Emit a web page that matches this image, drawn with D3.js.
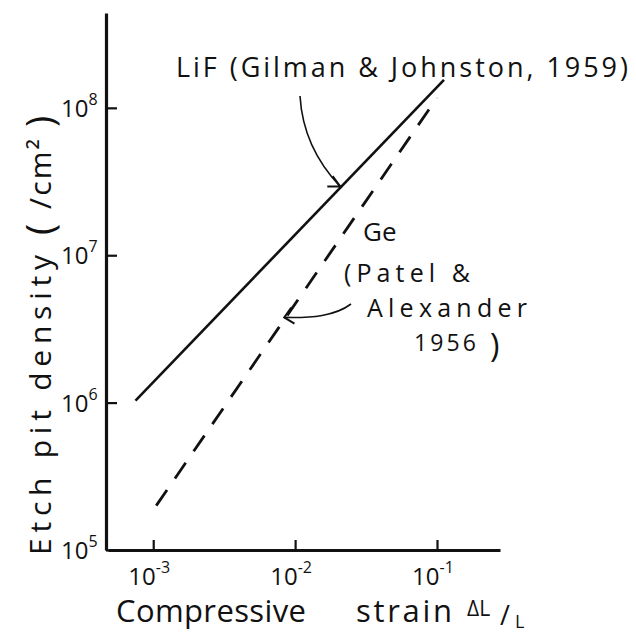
<!DOCTYPE html>
<html>
<head>
<meta charset="utf-8">
<script src="https://cdn.jsdelivr.net/npm/d3@7"></script>
<style>
  html, body { margin: 0; padding: 0; background: #fff; }
  svg { display: block; }
  text { font-family: "Open Sans", "DejaVu Sans", sans-serif; fill: #111; }
</style>
</head>
<body>
<svg id="chart" width="636" height="635"></svg>
<script>
// Etch pit density against compressive strain (log–log)
const xTicks = [1e-3, 1e-2, 1e-1];
const xTickExp = ["-3", "-2", "-1"];
const yTicks = [1e5, 1e6, 1e7, 1e8];
const yTickExp = ["5", "6", "7", "8"];

// LiF (Gilman & Johnston, 1959): solid line
const lifStrain = [7.5e-4, 0.112];
const lifDensity = [1.03e6, 1.55e8];
// Ge (Patel & Alexander, 1956): dashed line
const geStrain = [1.05e-3, 0.10];
const geDensity = [2.0e5, 1.17e8];

const svg = d3.select("#chart");
const ink = "#111";

const x = d3.scaleLog().domain([4.8e-4, 0.278]).range([108, 500]);
const y = d3.scaleLog().domain([1e5, 4.4e8]).range([550, 13]);

// axes, ticks pointing inward
const xAxis = d3.axisBottom(x).tickValues(xTicks).tickSize(-10).tickSizeOuter(0).tickFormat("");
const yAxis = d3.axisLeft(y).tickValues(yTicks).tickSize(-11).tickSizeOuter(0).tickFormat("");

const gx = svg.append("g").attr("transform", "translate(0,550)").call(xAxis);
const gy = svg.append("g").attr("transform", "translate(106,0)").call(yAxis);
[gx, gy].forEach(g => {
  g.select(".domain").attr("stroke", ink).attr("stroke-width", 3.2);
  g.selectAll(".tick line").attr("stroke", ink).attr("stroke-width", 2.2);
});

// tick labels as powers of ten
xTicks.forEach((v, i) => {
  const t = svg.append("text").attr("x", x(v) - 4).attr("y", 585)
    .attr("text-anchor", "middle").style("font-size", "24px");
  t.append("tspan").text("10");
  t.append("tspan").attr("dy", -12).style("font-size", "16px").text(xTickExp[i]);
});
yTicks.forEach((v, i) => {
  const t = svg.append("text").attr("x", 61).attr("y", y(v) + 9)
    .style("font-size", "24px");
  t.append("tspan").text("10");
  t.append("tspan").attr("dy", -12).style("font-size", "16px").text(yTickExp[i]);
});

// data lines
const line = d3.line().x(d => x(d[0])).y(d => y(d[1]));
svg.append("path")
  .datum(d3.zip(lifStrain, lifDensity))
  .attr("d", line).attr("fill", "none")
  .attr("stroke", ink).attr("stroke-width", 2.6);
svg.append("path")
  .datum(d3.zip(geStrain, geDensity))
  .attr("d", line).attr("fill", "none")
  .attr("stroke", ink).attr("stroke-width", 2.8)
  .attr("stroke-dasharray", "19,14");

// value on a log-log straight line at a given strain
function onLine(xs, ys, s) {
  const t = (Math.log(s) - Math.log(xs[0])) / (Math.log(xs[1]) - Math.log(xs[0]));
  return Math.exp(Math.log(ys[0]) + t * (Math.log(ys[1]) - Math.log(ys[0])));
}

// annotation arrows
function arrowHead(tx, ty, a1, a2, len) {
  return `M${tx + len * Math.cos(a1)},${ty + len * Math.sin(a1)}L${tx},${ty}L${tx + len * Math.cos(a2)},${ty + len * Math.sin(a2)}`;
}
const lifTipS = 0.0215;
const lifTip = [x(lifTipS) - 2, y(onLine(lifStrain, lifDensity, lifTipS)) + 1];
svg.append("path")
  .attr("d", `M300,96 C302,130 315,160 ${lifTip[0]},${lifTip[1]}`)
  .attr("fill", "none").attr("stroke", ink).attr("stroke-width", 1.6);
svg.append("path")
  .attr("d", arrowHead(lifTip[0], lifTip[1], Math.PI, -2.2, 13))
  .attr("fill", "none").attr("stroke", ink).attr("stroke-width", 2);

const geTipS = 0.0088;
const geTip = [x(geTipS) - 3, y(onLine(geStrain, geDensity, geTipS)) + 2];
svg.append("path")
  .attr("d", `M351,304 C335,316 312,318 ${geTip[0]},${geTip[1]}`)
  .attr("fill", "none").attr("stroke", ink).attr("stroke-width", 1.6);
svg.append("path")
  .attr("d", arrowHead(geTip[0], geTip[1], -0.95, 0.55, 12))
  .attr("fill", "none").attr("stroke", ink).attr("stroke-width", 2);

// annotation labels
svg.append("text").attr("x", 176).attr("y", 77)
  .attr("textLength", 452).attr("lengthAdjust", "spacing")
  .style("font-size", "27px").text("LiF (Gilman & Johnston, 1959)");
svg.append("text").attr("x", 363).attr("y", 241).style("font-size", "26px").text("Ge");
svg.append("text").attr("x", 344).attr("y", 282)
  .attr("textLength", 126).attr("lengthAdjust", "spacing")
  .style("font-size", "25px").text("(Patel &");
svg.append("text").attr("x", 367).attr("y", 317)
  .attr("textLength", 160).attr("lengthAdjust", "spacing")
  .style("font-size", "25px").text("Alexander");
svg.append("text").attr("x", 414).attr("y", 351)
  .attr("textLength", 62).attr("lengthAdjust", "spacing")
  .style("font-size", "23px").text("1956");
svg.append("text").attr("x", 490).attr("y", 357).style("font-size", "32px").text(")");

// x-axis title
svg.append("text").attr("x", 116).attr("y", 622)
  .attr("textLength", 190).attr("lengthAdjust", "spacing")
  .style("font-size", "31px").text("Compressive");
svg.append("text").attr("x", 356).attr("y", 622)
  .attr("textLength", 96).attr("lengthAdjust", "spacing")
  .style("font-size", "31px").text("strain");
svg.append("text").attr("x", 467).attr("y", 616).style("font-size", "21px").text("ΔL");
svg.append("text").attr("x", 500).attr("y", 625).style("font-size", "27px").text("/");
svg.append("text").attr("x", 515).attr("y", 628).style("font-size", "18px").text("L");

// y-axis title, reading upward
const yt = svg.append("g").attr("transform", "translate(51,555) rotate(-90)");
yt.append("text").attr("x", 0).attr("y", 0)
  .attr("textLength", 300).attr("lengthAdjust", "spacing")
  .style("font-size", "30px").text("Etch pit density");
yt.append("text").attr("x", 320).attr("y", 3).style("font-size", "38px").text("(");
yt.append("text").attr("x", 346).attr("y", 0)
  .attr("textLength", 70).attr("lengthAdjust", "spacing")
  .style("font-size", "30px").text("/cm²");
yt.append("text").attr("x", 428).attr("y", 3).style("font-size", "38px").text(")");
</script>
</body>
</html>
